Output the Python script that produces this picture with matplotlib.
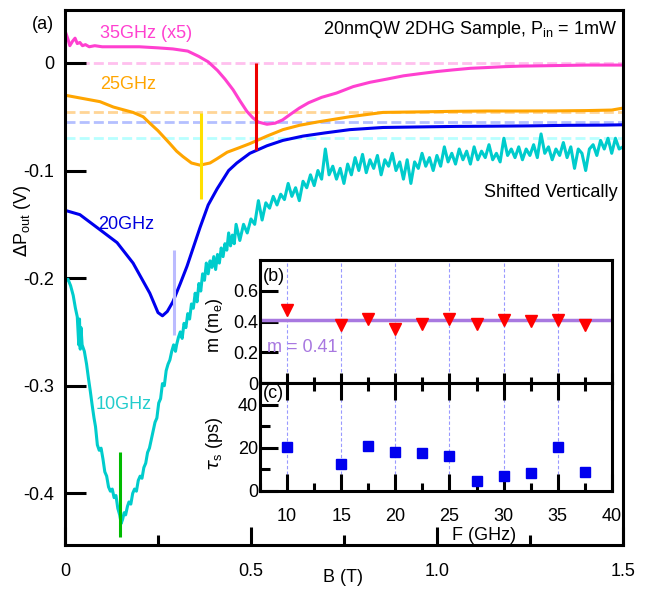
import matplotlib
matplotlib.use('Agg')
import matplotlib.pyplot as plt
from matplotlib.ticker import MultipleLocator

plt.rcParams['font.family'] = ['Liberation Sans', 'DejaVu Sans']
plt.rcParams['font.size'] = 13
plt.rcParams['axes.unicode_minus'] = False

# 35 GHz (x5) trace
curve35 = [(0.000, 0.030), (0.008, 0.022), (0.013, 0.016), (0.020, 0.020), (0.027, 0.023),
           (0.033, 0.018), (0.040, 0.019), (0.047, 0.016), (0.055, 0.017), (0.065, 0.015),
           (0.080, 0.016), (0.100, 0.015), (0.150, 0.015), (0.200, 0.015), (0.250, 0.014),
           (0.290, 0.013), (0.330, 0.011), (0.360, 0.006), (0.385, 0.001), (0.410, -0.007),
           (0.430, -0.015), (0.452, -0.025), (0.470, -0.035), (0.489, -0.045), (0.505, -0.051),
           (0.520, -0.055), (0.543, -0.057), (0.565, -0.056), (0.585, -0.053), (0.605, -0.048),
           (0.630, -0.042), (0.655, -0.037), (0.690, -0.032), (0.730, -0.028), (0.775, -0.022),
           (0.820, -0.018), (0.866, -0.015), (0.910, -0.012), (0.954, -0.010), (1.000, -0.008),
           (1.043, -0.0065), (1.090, -0.005), (1.134, -0.0043), (1.180, -0.0035), (1.223, -0.003),
           (1.312, -0.0025), (1.403, -0.002), (1.500, -0.002)]

curve25 = [(0.000, -0.030), (0.047, -0.033), (0.094, -0.036), (0.130, -0.041), (0.183, -0.046),
           (0.210, -0.050), (0.228, -0.056), (0.250, -0.063), (0.282, -0.075), (0.300, -0.082),
           (0.317, -0.087), (0.340, -0.093), (0.363, -0.095), (0.390, -0.093), (0.409, -0.089),
           (0.436, -0.083), (0.467, -0.079), (0.497, -0.075), (0.543, -0.068), (0.586, -0.062),
           (0.630, -0.058), (0.677, -0.055), (0.766, -0.050), (0.855, -0.046), (0.954, -0.0455),
           (1.043, -0.0450), (1.134, -0.0447), (1.223, -0.0447), (1.312, -0.0446), (1.403, -0.0443),
           (1.470, -0.0438), (1.500, -0.042)]

curve20 = [(0.000, -0.137), (0.040, -0.141), (0.094, -0.155), (0.140, -0.167), (0.183, -0.186),
           (0.228, -0.214), (0.250, -0.232), (0.262, -0.235), (0.275, -0.231), (0.290, -0.222),
           (0.310, -0.205), (0.328, -0.189), (0.363, -0.153), (0.385, -0.132), (0.409, -0.117),
           (0.440, -0.100), (0.462, -0.093), (0.497, -0.084), (0.543, -0.077), (0.586, -0.072),
           (0.640, -0.068), (0.700, -0.065), (0.766, -0.062), (0.855, -0.060), (0.950, -0.0595),
           (1.050, -0.059), (1.150, -0.0588), (1.250, -0.0585), (1.350, -0.058), (1.450, -0.0578),
           (1.500, -0.0575)]

curve10 = [(0.000, -0.203), (0.008, -0.201), (0.015, -0.207), (0.022, -0.216), (0.028, -0.228),
           (0.033, -0.236), (0.037, -0.262), (0.039, -0.238), (0.041, -0.266), (0.043, -0.246),
           (0.046, -0.262), (0.052, -0.268), (0.058, -0.280), (0.063, -0.293), (0.068, -0.305),
           (0.073, -0.318), (0.078, -0.330), (0.082, -0.338), (0.087, -0.355), (0.092, -0.360),
           (0.097, -0.358), (0.102, -0.368), (0.107, -0.380), (0.112, -0.384), (0.117, -0.394),
           (0.122, -0.398), (0.127, -0.396), (0.132, -0.404), (0.137, -0.402), (0.142, -0.414),
           (0.147, -0.420), (0.151, -0.428), (0.155, -0.424), (0.159, -0.418), (0.163, -0.420),
           (0.168, -0.412), (0.172, -0.408), (0.177, -0.410), (0.182, -0.400), (0.187, -0.396),
           (0.192, -0.398), (0.197, -0.388), (0.202, -0.384), (0.207, -0.386), (0.212, -0.376),
           (0.217, -0.372), (0.222, -0.362), (0.227, -0.358), (0.232, -0.350), (0.237, -0.342),
           (0.242, -0.334), (0.247, -0.330), (0.252, -0.316), (0.257, -0.312), (0.262, -0.298),
           (0.267, -0.300), (0.272, -0.286), (0.277, -0.280), (0.282, -0.276), (0.287, -0.268),
           (0.292, -0.262), (0.297, -0.268), (0.300, -0.262), (0.305, -0.255), (0.310, -0.250),
           (0.315, -0.256), (0.320, -0.242), (0.325, -0.246), (0.330, -0.233), (0.335, -0.238),
           (0.340, -0.224), (0.345, -0.228), (0.350, -0.214), (0.355, -0.222), (0.360, -0.205),
           (0.365, -0.212), (0.370, -0.196), (0.375, -0.202), (0.380, -0.186), (0.385, -0.196),
           (0.390, -0.184), (0.395, -0.190), (0.400, -0.180), (0.405, -0.192), (0.410, -0.178),
           (0.415, -0.186), (0.420, -0.172), (0.425, -0.180), (0.430, -0.168), (0.435, -0.174),
           (0.440, -0.158), (0.445, -0.170), (0.450, -0.160), (0.455, -0.168), (0.46, -0.150),
           (0.47, -0.165), (0.48, -0.150), (0.49, -0.158), (0.50, -0.145), (0.51, -0.150),
           (0.52, -0.128), (0.53, -0.146), (0.54, -0.130), (0.55, -0.135), (0.56, -0.124),
           (0.57, -0.132), (0.58, -0.122), (0.59, -0.127), (0.60, -0.112), (0.61, -0.124),
           (0.62, -0.116), (0.63, -0.128), (0.64, -0.110), (0.65, -0.116), (0.66, -0.104),
           (0.67, -0.114), (0.68, -0.100), (0.69, -0.108), (0.70, -0.080), (0.71, -0.104),
           (0.72, -0.096), (0.73, -0.108), (0.74, -0.098), (0.75, -0.112), (0.76, -0.094),
           (0.77, -0.104), (0.78, -0.088), (0.79, -0.100), (0.80, -0.085), (0.81, -0.102),
           (0.82, -0.090), (0.83, -0.098), (0.84, -0.086), (0.85, -0.104), (0.86, -0.090),
           (0.87, -0.096), (0.88, -0.084), (0.89, -0.100), (0.90, -0.092), (0.91, -0.108),
           (0.92, -0.090), (0.93, -0.112), (0.94, -0.092), (0.95, -0.098), (0.96, -0.084),
           (0.97, -0.096), (0.98, -0.088), (0.99, -0.100), (1.00, -0.086), (1.01, -0.096),
           (1.02, -0.078), (1.03, -0.092), (1.04, -0.084), (1.05, -0.094), (1.06, -0.080),
           (1.07, -0.090), (1.08, -0.082), (1.09, -0.094), (1.10, -0.078), (1.11, -0.090),
           (1.12, -0.082), (1.13, -0.088), (1.14, -0.076), (1.15, -0.090), (1.16, -0.084),
           (1.17, -0.092), (1.18, -0.070), (1.19, -0.086), (1.20, -0.080), (1.21, -0.088),
           (1.22, -0.078), (1.23, -0.090), (1.24, -0.080), (1.25, -0.086), (1.26, -0.076),
           (1.27, -0.088), (1.28, -0.066), (1.29, -0.084), (1.30, -0.078), (1.31, -0.090),
           (1.32, -0.080), (1.33, -0.086), (1.34, -0.074), (1.35, -0.088), (1.36, -0.078),
           (1.37, -0.098), (1.38, -0.080), (1.39, -0.084), (1.40, -0.100), (1.41, -0.080),
           (1.42, -0.076), (1.43, -0.086), (1.44, -0.072), (1.45, -0.080), (1.46, -0.070),
           (1.47, -0.084), (1.48, -0.070), (1.49, -0.080), (1.50, -0.078)]

# baselines (dashed) and resonance markers
base_y = [0.0, -0.0456, -0.0552, -0.070]
base_col = ['#FFC0EE', '#FFD596', '#B4C0FF', '#B8FFFF']
res_b = [0.513, 0.365, 0.293, 0.148]
res_lo = [-0.081, -0.126, -0.253, -0.441]
res_hi = [0.0, -0.047, -0.174, -0.362]
res_col = ['#EE0000', '#FFE000', '#BBBBFF', '#00BB00']

# insets
freq = [10, 15, 17.5, 20, 22.5, 25, 27.5, 30, 32.5, 35, 37.5]
mass = [0.475, 0.38, 0.414, 0.35, 0.384, 0.414, 0.384, 0.41, 0.403, 0.41, 0.377]
tau = [20.2, 12.5, 20.8, 17.9, 17.4, 16.2, 4.6, 6.8, 8.3, 20.2, 8.8]
m_fit = 0.41
grid_f = [10, 15, 20, 25, 30, 35]

fig = plt.figure(figsize=(6.54, 5.89), dpi=100)
ax = fig.add_axes([0.0994, 0.0747, 0.853, 0.908])

for y, c in zip(base_y, base_col):
    ax.axhline(y, color=c, lw=2.0, ls=(0, (3.6, 1.5)), zorder=1)

traces = [(curve35, '#FF40D0'), (curve25, '#FFA500'), (curve20, '#0000EE'), (curve10, '#00CCCC')]
for pts, c in traces:
    bx, py = zip(*pts)
    ax.plot(bx, py, color=c, lw=2.2, zorder=2)

ax.vlines(res_b, res_lo, res_hi, colors=res_col, lw=2.2, zorder=3)

ax.set_xlim(0, 1.5)
ax.set_ylim(-0.448, 0.049)
ax.set_xticks([0, 0.5, 1.0, 1.5])
ax.set_xticklabels(['0', '0.5', '1.0', '1.5'])
ax.xaxis.set_minor_locator(MultipleLocator(0.25))
ax.set_yticks([0, -0.1, -0.2, -0.3, -0.4])
ax.set_yticklabels(['0', '-0.1', '-0.2', '-0.3', '-0.4'])
ax.tick_params(axis='x', which='major', direction='in', length=13, width=2.2, pad=13)
ax.tick_params(axis='x', which='minor', direction='in', length=7, width=2.2)
ax.tick_params(axis='y', which='major', direction='in', length=15, width=2.2, pad=8)
for s in ax.spines.values():
    s.set_linewidth(2.2)

ax.set_xlabel('B (T)')
ax.xaxis.set_label_coords(0.498, -0.045)
ax.set_ylabel(r'$\Delta$P$_{\mathregular{out}}$ (V)')
ax.yaxis.set_label_coords(-0.057, 0.607)

ax.text(0.094, 0.027, '35GHz (x5)', color='#FF40D0', va='center')
ax.text(0.094, -0.0205, '25GHz', color='#FFA500', va='center')
ax.text(0.088, -0.150, '20GHz', color='#0000DD', va='center')
ax.text(0.081, -0.317, '10GHz', color='#22CCCC', va='center')
ax.text(1.485, 0.031, r'20nmQW 2DHG Sample, P$_{\mathregular{in}}$ = 1mW', ha='right', va='center')
ax.text(1.485, -0.120, 'Shifted Vertically', ha='right', va='center')
fig.text(0.065, 0.959, '(a)', ha='center', va='center')

# inset (b): effective mass
axb = fig.add_axes([0.3976, 0.3497, 0.538, 0.2088])
for f in grid_f:
    axb.axvline(f, color='#9999FF', lw=0.8, ls=(0, (3, 2)), zorder=1)
axb.axhline(m_fit, color='#A878E0', lw=2.5, zorder=2)
axb.plot(freq, mass, 'v', color='red', ms=8, zorder=3)
axb.set_xlim(7.5, 40)
axb.set_ylim(0, 0.8)
axb.set_xticks([10, 15, 20, 25, 30, 35, 40])
axb.xaxis.set_minor_locator(MultipleLocator(2.5))
axb.set_xticklabels([])
axb.set_yticks([0, 0.2, 0.4, 0.6])
axb.set_yticklabels(['0', '0.2', '0.4', '0.6'])
axb.tick_params(axis='x', which='major', direction='in', length=7, width=2.2)
axb.tick_params(axis='x', which='minor', direction='in', length=4, width=2.2)
axb.tick_params(axis='y', direction='in', length=13, width=2.2, pad=1.5)
axb.set_ylabel(r'm (m$_{\mathregular{e}}$)')
axb.yaxis.set_label_coords(-0.1, 0.47)
axb.text(8.15, 0.234, 'm = 0.41', color='#A878E0', va='center')
axb.text(0.009, 0.87, '(b)', transform=axb.transAxes, va='center')

# inset (c): spin lifetime
axc = fig.add_axes([0.3976, 0.1664, 0.538, 0.1834])
for f in grid_f:
    axc.axvline(f, color='#9999FF', lw=0.8, ls=(0, (3, 2)), zorder=1)
axc.plot(freq, tau, 's', color='#0000EE', ms=6.5, zorder=3)
axc.set_xlim(7.5, 40)
axc.set_ylim(0, 50)
axc.set_xticks([10, 15, 20, 25, 30, 35, 40])
axc.xaxis.set_minor_locator(MultipleLocator(2.5))
axc.set_yticks([0, 20, 40])
axc.yaxis.set_minor_locator(MultipleLocator(10))
axc.tick_params(axis='x', which='major', direction='in', length=12, width=2.2, pad=12, top=True)
axc.tick_params(axis='x', which='minor', direction='in', length=6, width=2.2, top=True)
axc.tick_params(axis='y', which='major', direction='in', length=13, width=2.2, pad=1.5)
axc.tick_params(axis='y', which='minor', direction='in', length=7, width=2.2)
axc.set_xlabel('F (GHz)')
axc.xaxis.set_label_coords(0.636, -0.335)
axc.set_ylabel(r'$\tau_{\mathregular{s}}$ (ps)')
axc.yaxis.set_label_coords(-0.099, 0.435)
axc.text(0.009, 0.90, '(c)', transform=axc.transAxes, va='center')

for a in (axb, axc):
    for s in a.spines.values():
        s.set_linewidth(2.2)

fig.savefig('out.png', dpi=100)
